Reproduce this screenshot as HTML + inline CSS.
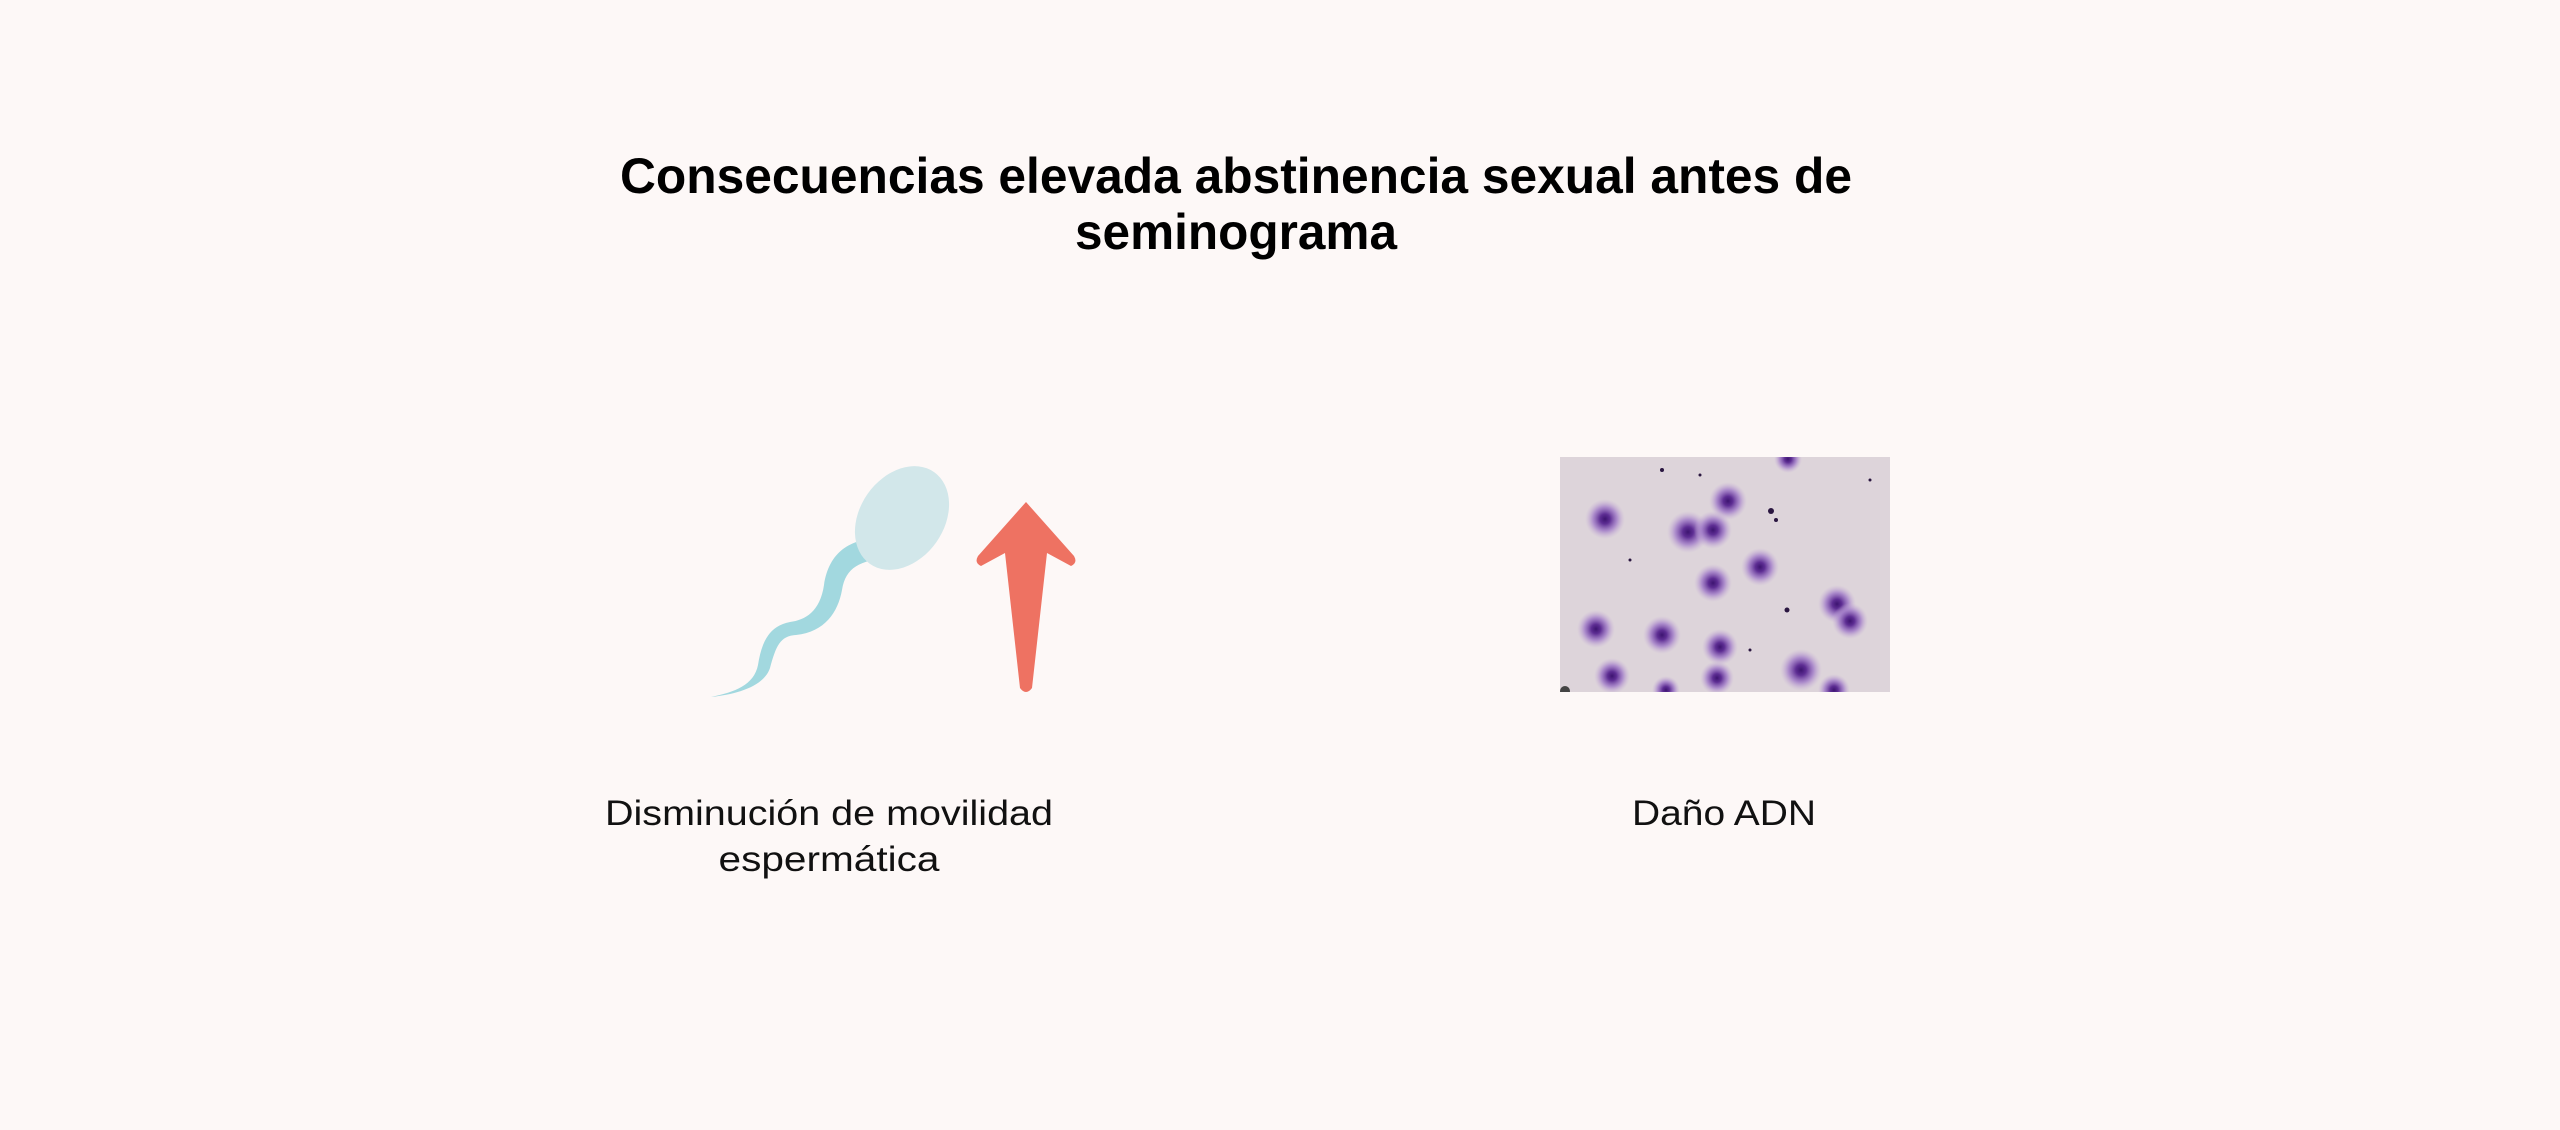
<!DOCTYPE html>
<html><head><meta charset="utf-8"><style>
html,body{margin:0;padding:0;background:#fdf8f7;}
svg{display:block}
</style></head><body>
<svg width="2560" height="1130" viewBox="0 0 2560 1130" xmlns="http://www.w3.org/2000/svg">
<defs>
<radialGradient id="blob">
<stop offset="0" stop-color="#3d1470"/>
<stop offset="0.25" stop-color="#5e2e94"/>
<stop offset="0.6" stop-color="#a07ac8" stop-opacity="0.8"/>
<stop offset="1" stop-color="#c8b0d8" stop-opacity="0"/>
</radialGradient>
<clipPath id="imgclip"><rect x="1560" y="457" width="330" height="235"/></clipPath>
</defs>
<rect width="2560" height="1130" fill="#fdf8f7"/>
<g font-family="'Liberation Sans', sans-serif" text-anchor="middle">
<text x="1236" y="193" font-size="50" font-weight="bold" fill="#000" textLength="1232" lengthAdjust="spacingAndGlyphs">Consecuencias elevada abstinencia sexual antes de</text>
<text x="1236" y="249" font-size="50" font-weight="bold" fill="#000" textLength="322" lengthAdjust="spacingAndGlyphs">seminograma</text>
<text x="829" y="825" font-size="35" fill="#111" textLength="448" lengthAdjust="spacingAndGlyphs">Disminución de movilidad</text>
<text x="829" y="871" font-size="35" fill="#111" textLength="221" lengthAdjust="spacingAndGlyphs">espermática</text>
<text x="1724" y="825" font-size="35" fill="#111" textLength="184" lengthAdjust="spacingAndGlyphs">Daño ADN</text>
</g>
<path d="M893,540 C860,535 830,545 824,585 C820,612 805,620 790,622 C770,626 762,640 758,665 C754,685 735,692 711,697 C738,694 764,686 770,668 C776,646 780,636 796,635 C825,632 838,612 842,590 C846,565 862,560 898,556 Z" fill="#a2d8df"/>
<ellipse cx="902" cy="518" rx="42" ry="56" transform="rotate(35 902 518)" fill="#d2e7ea"/>
<path d="M1026,502 L1074,556 Q1078,563 1071,566 L1047,553 L1032,688 Q1026,696 1020,688 L1005,553 L981,566 Q974,563 978,556 Z" fill="#ee7262"/>
<rect x="1560" y="457" width="330" height="235" fill="#ddd4da"/>
<g clip-path="url(#imgclip)">
<g fill="url(#blob)">
<circle cx="1605" cy="519" r="20"/>
<circle cx="1728" cy="501" r="19"/>
<circle cx="1688" cy="532" r="21"/>
<circle cx="1713" cy="530" r="19"/>
<circle cx="1760" cy="567" r="19"/>
<circle cx="1713" cy="583" r="19"/>
<circle cx="1837" cy="604" r="19"/>
<circle cx="1850" cy="621" r="18"/>
<circle cx="1596" cy="629" r="19"/>
<circle cx="1662" cy="635" r="19"/>
<circle cx="1720" cy="647" r="18"/>
<circle cx="1801" cy="670" r="21"/>
<circle cx="1612" cy="676" r="18"/>
<circle cx="1717" cy="678" r="17"/>
<circle cx="1834" cy="690" r="16"/>
<circle cx="1788" cy="459" r="14"/>
<circle cx="1666" cy="690" r="14"/>
</g>
<g fill="#2a1640">
<circle cx="1771" cy="511" r="3"/><circle cx="1776" cy="520" r="2"/>
<circle cx="1662" cy="470" r="2"/><circle cx="1700" cy="475" r="1.5"/>
<circle cx="1787" cy="610" r="2.5"/><circle cx="1630" cy="560" r="1.5"/>
<circle cx="1870" cy="480" r="1.5"/><circle cx="1750" cy="650" r="1.5"/>
<circle cx="1565" cy="691" r="5" fill="#444"/>
</g>
</g>
</svg>
</body></html>
